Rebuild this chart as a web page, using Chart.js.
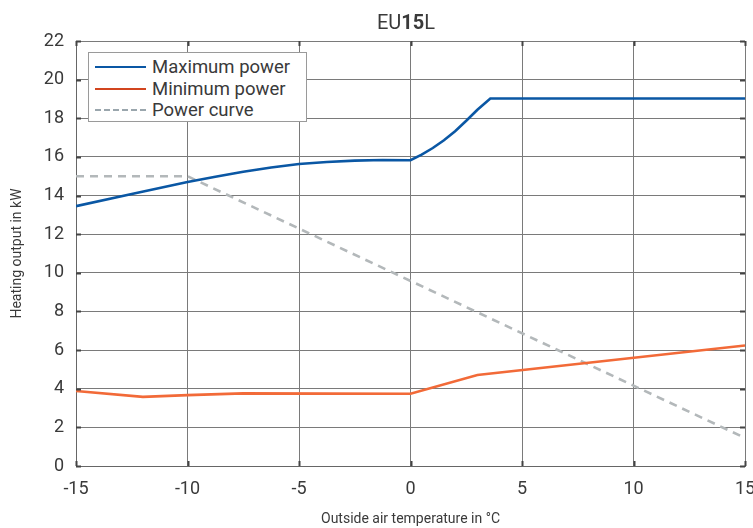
<!DOCTYPE html>
<html>
<head>
<meta charset="utf-8">
<script src="https://cdn.jsdelivr.net/npm/chart.js@4/dist/chart.umd.min.js"></script>
<style>
  html, body { margin: 0; padding: 0; background: #fff; }
  #wrap { position: relative; width: 753px; height: 528px; font-family: Roboto, "Liberation Sans", sans-serif; color: #3a3a3a; }
  #title { position: absolute; left: 0; width: 812px; top: 10px; text-align: center; font-size: 20px; line-height: 24px; }
  #legend { position: absolute; left: 88px; top: 52px; width: 217px; height: 68px; border: 1px solid #9a9a9a; background: #fff; font-size: 18.5px; }
  .row { position: absolute; left: 0; height: 22px; line-height: 22px; }
  .sample { position: absolute; left: 6px; top: 10px; width: 51px; height: 0; border-top: 2.5px solid; }
  .lbl { position: absolute; left: 63px; top: 0; white-space: nowrap; }
</style>
</head>
<body>
<div id="wrap">
  <canvas id="c" width="753" height="528"></canvas>
  <div id="title">EU<b>15</b>L</div>
  <div id="legend">
    <div class="row" style="top:3px"><div class="sample" style="border-color:#0a57a4"></div><div class="lbl">Maximum power</div></div>
    <div class="row" style="top:24.5px"><div class="sample" style="border-color:#d2451f"></div><div class="lbl">Minimum power</div></div>
    <div class="row" style="top:46px"><div class="sample" style="border-top:2.5px dashed #9aa6ad"></div><div class="lbl">Power curve</div></div>
  </div>
</div>
<script>
// ---- data ----
const seriesNames = ["Maximum power", "Minimum power", "Power curve"];
const maxPowerX = [-15, -12.5, -10, -8.75, -7.5, -6.25, -5, -3.75, -2.5, -1.25, 0, 0.5, 1, 1.5, 2, 2.5, 3, 3.58, 15];
const maxPowerY = [13.45, 14.08, 14.7, 14.97, 15.23, 15.45, 15.63, 15.74, 15.81, 15.84, 15.83, 16.12, 16.46, 16.86, 17.33, 17.87, 18.44, 19.02, 19.02];
const minPowerX = [-15, -12, -10, -7.5, 0, 3, 15];
const minPowerY = [3.88, 3.58, 3.67, 3.76, 3.74, 4.71, 6.24];
const curveX = [-15, -10, 15];
const curveY = [15.0, 15.0, 1.45];
const xTicks = [-15, -10, -5, 0, 5, 10, 15];
const yTicks = [0, 2, 4, 6, 8, 10, 12, 14, 16, 18, 20, 22];
const xTitle = "Outside air temperature in °C";
const yTitle = "Heating output in kW";

const pts = (xs, ys) => xs.map((x, i) => ({ x: x, y: ys[i] }));

const innerTicks = {
  id: 'innerTicks',
  afterDatasetsDraw(chart) {
    const { ctx, chartArea: a, scales: { x, y } } = chart;
    ctx.save();
    ctx.strokeStyle = '#444';
    ctx.lineWidth = 2;
    ctx.beginPath();
    yTicks.forEach(v => {
      const py = Math.round(y.getPixelForValue(v)) + 0.5;
      ctx.moveTo(a.left, py); ctx.lineTo(a.left + 5, py);
      ctx.moveTo(a.right, py); ctx.lineTo(a.right - 5, py);
    });
    xTicks.forEach(v => {
      const px = Math.round(x.getPixelForValue(v)) + 0.5;
      ctx.moveTo(px, a.top); ctx.lineTo(px, a.top + 5);
      ctx.moveTo(px, a.bottom); ctx.lineTo(px, a.bottom - 5);
    });
    ctx.stroke();
    ctx.restore();
  }
};

new Chart(document.getElementById('c'), {
  type: 'line',
  data: {
    datasets: [
      { label: seriesNames[0], data: pts(maxPowerX, maxPowerY), borderColor: '#0a57a4', borderWidth: 2.6, pointRadius: 0, tension: 0, fill: false },
      { label: seriesNames[1], data: pts(minPowerX, minPowerY), borderColor: '#f26a38', borderWidth: 2.6, pointRadius: 0, tension: 0, fill: false },
      { label: seriesNames[2], data: pts(curveX, curveY), borderColor: '#b3b8ba', borderWidth: 2.6, borderDash: [8, 6], pointRadius: 0, tension: 0, fill: false }
    ]
  },
  options: {
    responsive: false,
    animation: false,
    layout: { padding: { top: 41, right: 8, left: 0, bottom: 0 } },
    plugins: { legend: { display: false }, tooltip: { enabled: false } },
    scales: {
      x: {
        type: 'linear', min: -15, max: 15,
        afterBuildTicks: s => { s.ticks = xTicks.map(v => ({ value: v })); },
        afterFit: s => { s.height = 62; s.paddingLeft = 0; s.paddingRight = 0; },
        grid: { color: '#7a7a7a', lineWidth: 1, drawTicks: false },
        border: { color: '#666', width: 1 },
        ticks: { padding: 13, color: '#3a3a3a', font: { family: 'Roboto', size: 18 } },
        title: { display: true, text: xTitle, color: '#3a3a3a', font: { family: 'Roboto', size: 14 }, padding: { top: 0, bottom: 0 } }
      },
      y: {
        type: 'linear', min: 0, max: 22,
        afterBuildTicks: s => { s.ticks = yTicks.map(v => ({ value: v })); },
        afterFit: s => { s.width = 76; s.paddingTop = 0; s.paddingBottom = 0; },
        grid: { color: '#7a7a7a', lineWidth: 1, drawTicks: false },
        border: { color: '#666', width: 1 },
        ticks: { padding: 12, color: '#3a3a3a', font: { family: 'Roboto', size: 18 } },
        title: { display: true, text: yTitle, color: '#3a3a3a', font: { family: 'Roboto', size: 14 }, padding: { top: 9, bottom: 0 } }
      }
    }
  },
  plugins: [innerTicks]
});
</script>
</body>
</html>
